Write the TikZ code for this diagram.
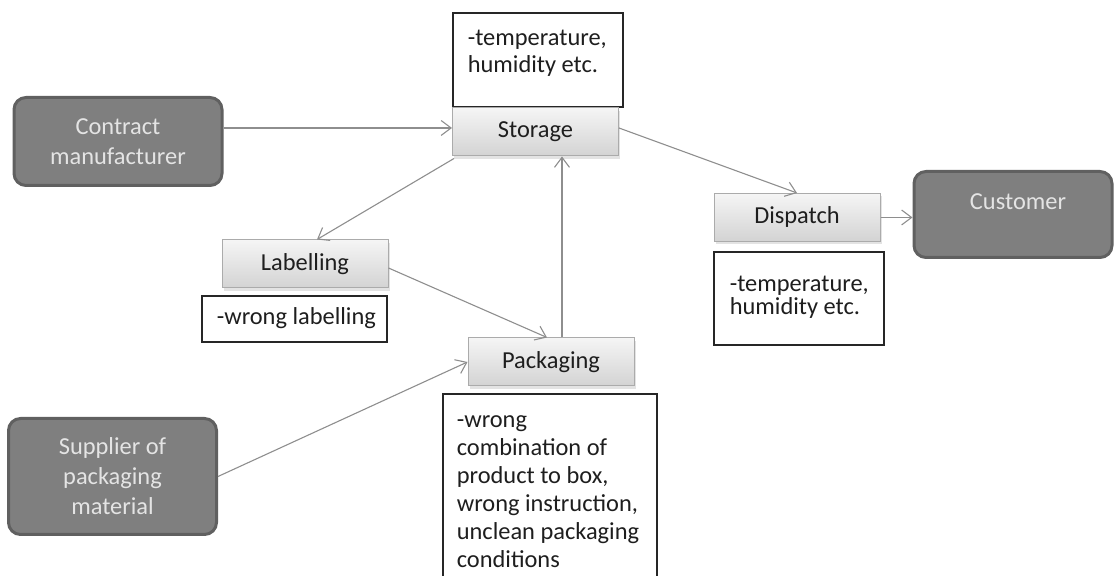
\documentclass[tikz,border=0pt]{standalone}
\usepackage{fontspec}
\setmainfont{Carlito}
\usetikzlibrary{arrows.meta,shadows,calc}
\definecolor{darkfill}{HTML}{7F7F7F}
\definecolor{darkedge}{HTML}{606060}
\definecolor{darktext}{HTML}{E4E4E4}
\definecolor{stepedge}{HTML}{ABABAB}
\definecolor{steptop}{HTML}{F5F5F5}
\definecolor{stepbot}{HTML}{D3D3D3}
\definecolor{inktext}{HTML}{1E1E1E}
\definecolor{linkcol}{HTML}{8E8E8E}
\tikzset{
  party/.style={draw=darkedge, line width=1.5pt, fill=darkfill, rounded corners=6pt,
    text=darktext, align=center, inner sep=0pt,
    font=\fontsize{12.2}{15}\selectfont},
  partytext/.style={text=darktext, align=center, inner sep=0pt,
    font=\fontsize{12.2}{15}\selectfont},
  stepbox/.style={draw=stepedge, line width=0.5pt, top color=steptop, bottom color=stepbot,
    text=inktext, inner sep=0pt, minimum width=83pt, minimum height=24pt,
    font=\fontsize{12.2}{13}\selectfont,
    drop shadow={opacity=0.22, shadow xshift=0.8pt, shadow yshift=-1.3pt}},
  notebox/.style={draw=black!85, line width=0.55pt, fill=white, inner sep=0pt},
  notetext/.style={text=inktext, align=left, inner sep=0pt, anchor=north west,
    font=\fontsize{12.2}{12.6}\selectfont},
  conn/.style={draw=linkcol, line width=0.55pt,
    -{Straight Barb[length=5pt,width=7.5pt,line width=0.55pt]}},
}
\begin{document}
\begin{tikzpicture}[x=0.5pt,y=-0.5pt]
\useasboundingbox (0,0) rectangle (1116,576);

% outside parties
\node[party, minimum width=104pt, minimum height=44pt] (contract) at (118,141.5)
  {Contract\\manufacturer};
\node[party, minimum width=104pt, minimum height=58pt] (supplier) at (112.5,476.5)
  {Supplier of\\packaging\\material};
\node[party, minimum width=99pt, minimum height=43pt] (customer) at (1013,214.5) {};
\node[partytext] (customertext) at (1018,202) {Customer};

% notes
\node[notebox, minimum width=85pt, minimum height=47pt] (storagenote) at (538,60) {};
\node[notetext, font=\fontsize{12.2}{13.5}\selectfont] (storagenotetext)
  at ($(storagenote.north west)+(15,17)$)
  {-temperature,\\humidity etc.};
\node[notebox, minimum width=85pt, minimum height=46.5pt] (dispatchnote) at (799,298.5) {};
\node[notetext, font=\fontsize{12.2}{11.5}\selectfont] (dispatchnotetext)
  at ($(dispatchnote.north west)+(16,24)$)
  {-temperature,\\humidity etc.};
\node[notebox, minimum width=92.5pt, minimum height=23pt] (labelnote) at (294.5,319) {};
\node[notetext, anchor=west] (labelnotetext) at ($(labelnote.west)+(15,-1)$)
  {-wrong labelling};
\node[notebox, minimum width=107pt, minimum height=100pt] (packnote) at (550,494) {};
\node[notetext, font=\fontsize{12.2}{14}\selectfont] (packnotetext)
  at ($(packnote.north west)+(14,22)$)
  {-wrong\\combination of\\product to box,\\wrong instruction,\\unclean packaging\\conditions};

% process steps
\node[stepbox] (storage) at (535.5,132) {Storage};
\node[stepbox] (dispatch) at (797,217.5) {Dispatch};
\node[stepbox] (labelling) at (305,264) {Labelling};
\node[stepbox] (packaging) at (551,362) {Packaging};

% connector end points
\coordinate (storagein) at ([yshift=2pt]storage.west);
\coordinate (storageout) at ([yshift=2pt]storage.east);
\coordinate (packout) at ([xshift=5.5pt]packaging.north);

% flows
\draw[conn] (contract.east |- storagein) -- (storagein);
\draw[conn] (storageout) -- (dispatch.north);
\draw[conn] ([shift={(1pt,-1pt)}]storage.south west) -- ([xshift=6pt]labelling.north);
\draw[conn] ([yshift=-2pt]labelling.east) -- ([xshift=-2pt]packaging.north);
\draw[conn] (packout) -- (packout |- storage.south);
\draw[conn] (supplier.east) -- (packaging.west);
\draw[conn] (dispatch.east) -- (dispatch.east -| customer.west);
\end{tikzpicture}
\end{document}
